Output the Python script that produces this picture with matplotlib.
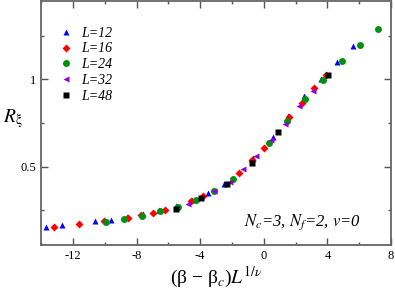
import matplotlib
matplotlib.use("Agg")
import matplotlib.pyplot as plt
from matplotlib.ticker import MultipleLocator

plt.rcParams['font.family'] = ['Liberation Serif', 'DejaVu Serif']
plt.rcParams['mathtext.fontset'] = 'stix'
plt.rcParams['axes.unicode_minus'] = False

# scaled data
x12 = [-13.67, -12.66, -10.64, -9.59, -8.58, -7.57, -6.56, -5.54, -4.54, -3.51,
       -2.52, -0.65, 0.55, 1.54, 2.55, 3.58, 4.60, 5.62]
y12 = [0.155, 0.164, 0.185, 0.195, 0.212, 0.227, 0.250, 0.275, 0.309, 0.350,
       0.401, 0.551, 0.670, 0.790, 0.903, 1.003, 1.101, 1.193]

x16 = [-13.20, -11.63, -10.02, -8.52, -7.74, -6.96, -6.21, -4.58, -3.85, -1.55,
       -0.71, 0.04, 1.59, 2.39, 3.15, 3.89]
y16 = [0.155, 0.171, 0.185, 0.204, 0.220, 0.235, 0.250, 0.302, 0.330, 0.464,
       0.535, 0.609, 0.785, 0.865, 0.951, 1.023]

x24 = [-9.94, -8.79, -7.67, -6.52, -5.38, -4.23, -3.13, -1.93, 0.32, 1.48,
       2.60, 3.73, 4.89, 6.02, 7.16]
y24 = [0.184, 0.201, 0.216, 0.243, 0.270, 0.307, 0.357, 0.430, 0.636, 0.764,
       0.888, 0.998, 1.103, 1.199, 1.290]

x32 = [-4.77, -3.11, -2.15, -1.32, -0.46, 0.44, 1.34, 2.20, 3.07]
y32 = [0.287, 0.358, 0.413, 0.486, 0.560, 0.653, 0.746, 0.845, 0.936]

x48 = [-5.53, -3.93, -2.33, -0.76, 0.88, 4.05]
y48 = [0.259, 0.317, 0.401, 0.519, 0.697, 1.023]

fig = plt.figure(figsize=(3.95, 2.91), dpi=100)
ax = fig.add_axes([0.104, 0.158, 0.886, 0.839])

ax.plot(x12, y12, '^', color='#0000ff', ms=5, mec='none', label='L=12')
ax.plot(x16, y16, 'D', color='#ff0000', ms=3.6, mec='none', label='L=16')
ax.plot(x24, y24, 'o', color='#00900e', ms=5, mec='none', label='L=24')
ax.plot(x32, y32, '<', color='#9400d3', ms=5, mec='none', label='L=32')
ax.plot(x48, y48, 's', color='#000000', ms=4, mec='none', label='L=48')

ax.set_xlim(-14, 8)
ax.set_ylim(0.05, 1.45)
ax.xaxis.set_minor_locator(MultipleLocator(2))
ax.yaxis.set_minor_locator(MultipleLocator(0.25))
ax.set_xticks([-12, -8, -4, 0, 4, 8])
ax.set_xticklabels(['-12', '-8', '-4', '0', '4', '8'])
ax.set_yticks([0.5, 1])
ax.set_yticklabels(['0.5', '1'])

ax.tick_params(which='both', direction='in', top=True, right=True, labelsize=9,
               color='#555555')
ax.tick_params(which='major', length=5, width=1)
ax.tick_params(which='minor', length=2.5, width=1)
for s in ax.spines.values():
    s.set_color('#666666')
    s.set_linewidth(1.3)

ax.set_xlabel('(β − β$_c$)$L^{1/\\nu}$', fontsize=14, labelpad=2)
ax.set_ylabel(r'$R_{\mathrm{\xi}}$', fontsize=14, rotation=0, labelpad=8)
ax.yaxis.set_label_coords(-0.08, 0.47)

ax.text(6.1, 0.18, r'$N_c$=3, $N_f$=2, $v$=0', ha='right', va='center',
        fontsize=12, style='italic')

leg = ax.legend(loc='upper left', bbox_to_anchor=(0.035, 0.917), frameon=False,
                prop={'style': 'italic', 'size': 10}, handletextpad=0.6,
                labelspacing=0.2, borderaxespad=0, handlelength=1.0)

fig.savefig('out.png', dpi=100)
